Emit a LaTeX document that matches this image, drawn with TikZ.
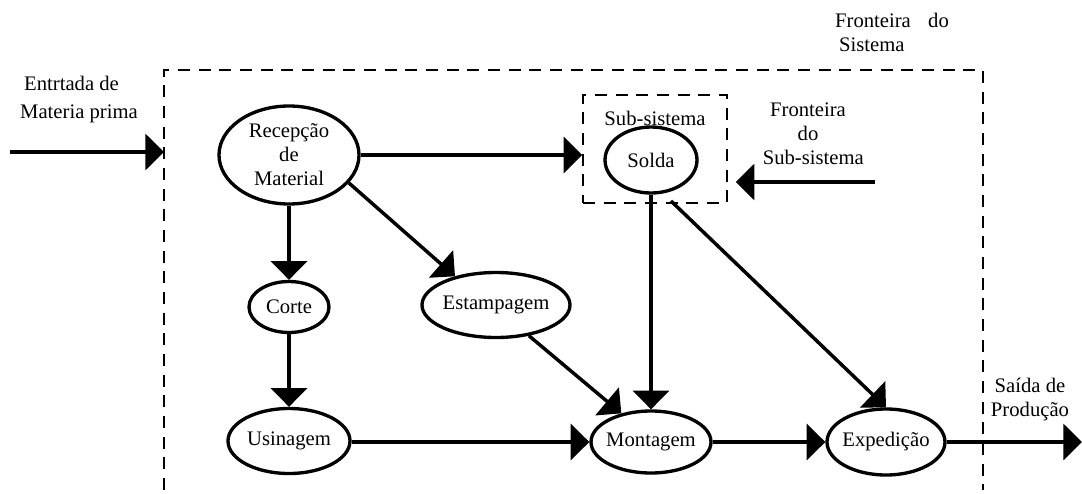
\documentclass[tikz,border=0pt]{standalone}
\usepackage{fontspec}
\setmainfont{Liberation Serif}
\usetikzlibrary{arrows.meta,shapes.geometric,calc}
\begin{document}
\begin{tikzpicture}[x=0.75pt,y=-0.75pt,
  txt/.style={font={\fontsize{15.5}{18}\selectfont},inner sep=0pt},
  proc/.style={ellipse,draw,line width=2.5pt,inner sep=-6pt,align=center,
    font={\fontsize{15.5}{18}\selectfont}},
  conn/.style={line width=2.6pt,-{Triangle[length=14pt,width=27pt]}},
  bound/.style={line width=1.1pt,dash pattern=on 9pt off 6.5pt}
]
\useasboundingbox (0,0) rectangle (1082,493);

% system boundary (open at the bottom)
\coordinate (bl) at (164,490);
\coordinate (tl) at (164,70);
\coordinate (tr) at (983,70);
\coordinate (br) at (983,490);
\draw[bound] (bl) -- (tl) -- (tr) -- (br);

% sub-system boundary
\node[draw,bound,minimum width=108pt,minimum height=81pt,inner sep=0pt] (sub) at (655,149) {};
\node[txt] (sublbl) at (655,118) {Sub-sistema};

% processes
\node[proc,minimum width=105pt,minimum height=73.5pt] (recep) at (289,155) {Recepção\\de\\Material};
\node[proc,minimum width=60pt,minimum height=38.25pt] (corte) at (289,307) {Corte};
\node[proc,minimum width=91.5pt,minimum height=48.75pt] (usin) at (289,441) {Usinagem};
\node[proc,minimum width=111pt,minimum height=48.75pt] (estamp) at (496,305) {Estampagem};
\node[proc,minimum width=90pt,minimum height=46.5pt] (mont) at (651,442) {Montagem};
\node[proc,minimum width=88.5pt,minimum height=49.5pt] (exped) at (886,442) {Expedição};
\node[proc,minimum width=69pt,minimum height=49.5pt] (solda) at (651,160) {Solda};

% labels
\node[txt,align=left] (entr) at (79,100) {\hspace*{3pt}Entrtada de\\[3pt]Materia prima};
\node[txt,align=left] (fsis) at (892,32) {Fronteira\hspace{13pt}do\\\hspace*{3pt}Sistema};
\node[txt,align=center] (fsub) at (808,134) {Fronteira\\do\\\hspace*{8pt}Sub-sistema};
\node[txt,align=center] (saida) at (1030,400) {Saída de\\Produção};

% free ends
\coordinate (inS) at (10,152);
\coordinate (inE) at (164,152);
\coordinate (fsS) at (875,182);
\coordinate (outE) at (1082,442);

% connectors
\draw[conn] (inS) -- (inE);
\draw[conn] (recep.east) -- (recep.east -| sub.west);
\draw[conn,shorten >=6pt] (fsS) -- (fsS -| sub.east);
\draw[conn] (recep.south) -- (corte.north);
\draw[conn] (corte.south) -- (usin.north);
\draw[conn] (recep.-25) -- (estamp.145);
\draw[conn] (estamp.-43) -- (mont.136);
\draw[conn] (solda.south) -- (mont.north);
\draw[conn,shorten <=8pt] (solda.-70) -- (exped.north);
\draw[conn] (usin.east |- mont.west) -- (mont.west);
\draw[conn] (mont.east) -- (exped.west);
\draw[conn] (exped.east) -- (outE);
\end{tikzpicture}
\end{document}
